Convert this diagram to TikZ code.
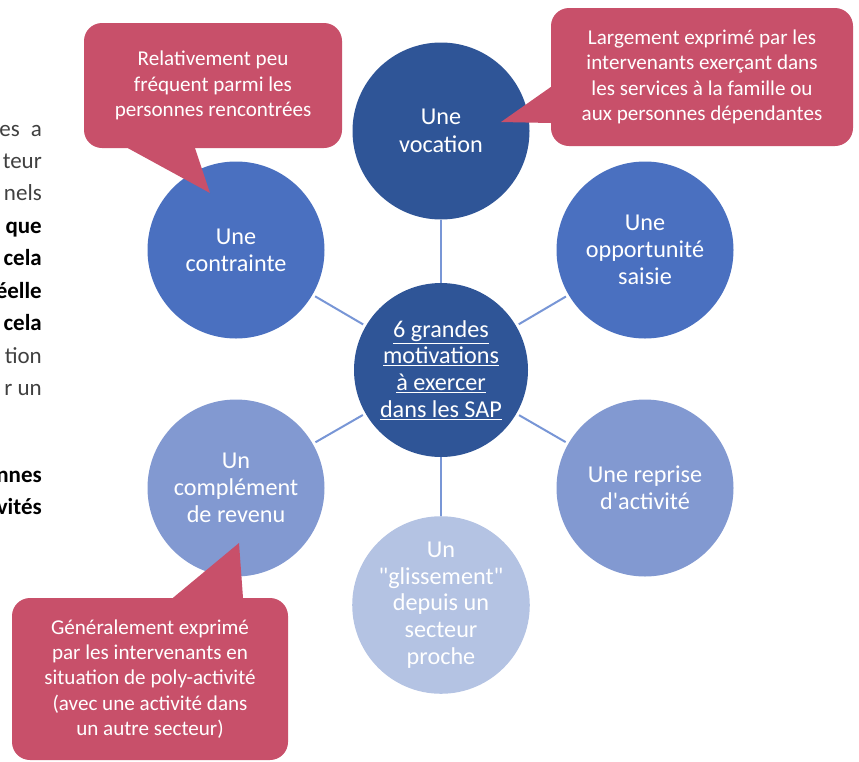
\documentclass[tikz,border=0pt]{standalone}
\usepackage{fontspec}
\setmainfont{Carlito}[Ligatures=TeXOff]
\definecolor{navy}{HTML}{2F5597}
\definecolor{midblue}{HTML}{4A70C0}
\definecolor{softblue}{HTML}{8299D1}
\definecolor{paleblue}{HTML}{B4C3E3}
\definecolor{calloutred}{HTML}{C8506A}
\definecolor{linkblue}{HTML}{7896D6}
\definecolor{bodygray}{HTML}{404040}
\begin{document}
\begin{tikzpicture}[x=1pt,y=-1pt,
  motive/.style={circle, minimum size=177pt, inner sep=0pt, text=white, align=center,
    font=\fontsize{24.2}{26.7}\selectfont},
  link/.style={draw=linkblue, line width=2pt},
  bubble/.style={fill=calloutred, rounded corners=18pt, text=white, align=center,
    inner sep=0pt, font=\fontsize{21.1}{25.3}\selectfont},
  body/.style={anchor=base east, inner sep=0pt, font=\fontsize{23}{28}\selectfont, text=bodygray},
  bodybold/.style={anchor=base east, inner sep=0pt, font=\fontsize{23}{28}\selectfont\bfseries, text=black}
]
\useasboundingbox (0,0) rectangle (859,761);

% clipped right edge of the running text column
\node[body]     (t1)  at (42,136) {es\hskip 11pt a};
\node[body]     (t2)  at (42,168) {teur};
\node[body]     (t3)  at (42,200) {nels};
\node[bodybold] (t4)  at (42,233) {que};
\node[bodybold] (t5)  at (42,265) {cela};
\node[bodybold] (t6)  at (42,298) {éelle};
\node[bodybold] (t7)  at (42,330) {cela};
\node[body]     (t8)  at (42,363) {tion};
\node[body]     (t9)  at (42,395) {r un};
\node[bodybold] (t10) at (42,482) {nnes};
\node[bodybold] (t11) at (42,514) {vités};

% hub and the six motivations
\node[motive, fill=navy, minimum size=174pt] (hub) at (441,370)
  {\underline{6 grandes}\\\underline{motivations}\\\underline{à exercer}\\\underline{dans les SAP}};
\node[motive, fill=navy, font=\fontsize{24.2}{28}\selectfont] (vocation) at (441,131) {Une\\vocation};
\node[motive, fill=midblue]  (contrainte)  at (236,250) {Une\\contrainte};
\node[motive, fill=midblue]  (opportunite) at (645,250) {Une\\opportunité\\saisie};
\node[motive, fill=softblue] (reprise)     at (645,488) {Une reprise\\d'activité};
\node[motive, fill=softblue] (complement)  at (236,488) {Un\\complément\\de revenu};
\node[motive, fill=paleblue] (glissement)  at (441,605) {Un\\"glissement"\\depuis un\\secteur\\proche};

% spokes
\draw[link] (hub) -- (vocation);
\draw[link] (hub) -- (glissement);
\draw[link, shorten <=3pt, shorten >=3pt] (hub) -- (contrainte);
\draw[link, shorten <=3pt, shorten >=3pt] (hub) -- (opportunite);
\draw[link, shorten <=3pt, shorten >=3pt] (hub) -- (reprise);
\draw[link, shorten <=3pt, shorten >=3pt] (hub) -- (complement);

% callouts
\node[bubble, minimum width=258pt, minimum height=125pt] (note1) at (213,85.5)
  {Relativement peu\\fréquent parmi les\\personnes rencontrées};
\coordinate (tip1) at (210,193);
\fill[calloutred] ([xshift=-85pt]note1.south) -- (tip1) -- ([xshift=-18pt]note1.south)
  -- ([xshift=-18pt,yshift=2pt]note1.south) -- ([xshift=-85pt,yshift=2pt]note1.south) -- cycle;

\node[bubble, minimum width=302pt, minimum height=138pt] (note2) at (702,77)
  {Largement exprimé par les\\intervenants exerçant dans\\les services à la famille ou\\aux personnes dépendantes};
\coordinate (tip2) at (501,122);
\fill[calloutred] ([yshift=-10pt]note2.west) -- (tip2) -- ([yshift=-46pt]note2.west)
  -- ([xshift=2pt,yshift=-46pt]note2.west) -- ([xshift=2pt,yshift=-10pt]note2.west) -- cycle;

\node[bubble, minimum width=276pt, minimum height=162pt] (note3) at (150,679)
  {Généralement exprimé\\par les intervenants en\\situation de poly-activité\\(avec une activité dans\\un autre secteur)};
\coordinate (tip3) at (239,543);
\fill[calloutred] ([xshift=23pt]note3.north) -- (tip3) -- ([xshift=93pt]note3.north)
  -- ([xshift=93pt,yshift=-2pt]note3.north) -- ([xshift=23pt,yshift=-2pt]note3.north) -- cycle;
\end{tikzpicture}
\end{document}
